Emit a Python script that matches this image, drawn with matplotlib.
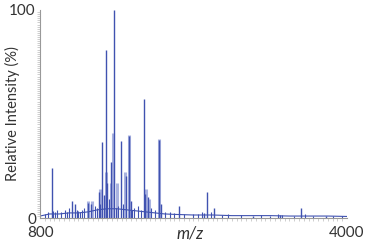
import matplotlib.pyplot as plt
from matplotlib.ticker import MultipleLocator, FixedLocator

plt.rcParams['font.family'] = ['Lato', 'DejaVu Sans']

# Main peaks (m/z, relative intensity %)
peak_mz = [925, 1133, 1162, 1300, 1335, 1412, 1443, 1464, 1485, 1501,
           1537, 1568, 1641, 1693, 1724, 1745, 1882, 1897, 1922, 2040,
           2061, 2249, 2512, 2543, 2612, 3016, 3301, 3517, 3777]
peak_int = [24, 8, 7, 7.5, 7, 12.6, 36.5, 11, 81, 17,
            27, 100, 37, 20, 39.5, 8, 57, 11.5, 10, 37.5,
            7, 6, 2.5, 12.4, 5, 1.2, 1.5, 5, 1]

# Lighter, broader shoulders under some peaks
shoulder_mz = [1300, 1345, 1430, 1490, 1540, 1565, 1600, 1690, 1730, 1900, 1940, 2045]
shoulder_int = [8, 8, 14, 22, 17, 41, 17, 22, 40, 14, 9, 38]

# Small peaks / noise
minor_mz = [850, 880, 940, 960, 980, 1020, 1060, 1080, 1100, 1180, 1200, 1220,
            1240, 1260, 1370, 1390, 1420, 1520, 1590, 1610, 1660, 1760, 1780,
            1820, 1850, 1960, 2000, 2100, 2150, 2200, 2300, 2400, 2450, 2490,
            2580, 2700, 2760, 2900, 3100, 3200, 3280, 3320, 3450, 3560, 3650,
            3850, 3950]
minor_int = [2, 3, 3.5, 3, 4, 3, 4, 3, 5, 4, 3.5, 3,
             4, 5, 6, 5, 7, 9, 5, 6, 7, 4, 5,
             6, 4, 5, 4, 3, 3, 2.5, 2, 2, 2, 3,
             3, 1.5, 2, 1.5, 1.5, 1.2, 2, 1.5, 1.2, 2, 1.2,
             1, 1]

# Baseline trace
base_mz = [800, 850, 900, 950, 1000, 1100, 1200, 1300, 1400, 1500, 1600,
           1700, 1800, 1900, 2000, 2100, 2200, 2400, 2600, 2800, 3000,
           3200, 3400, 3600, 3800, 4000]
base_int = [1, 1.5, 2, 2, 2, 2.5, 2.5, 3, 4, 4.5, 4.5,
            4, 3.5, 3, 2.5, 2, 1.8, 1.5, 1.5, 1.2, 1.2,
            1.2, 1, 1, 1, 0.8]

dark = '#4052b0'
light = '#a9b3e0'

fig = plt.figure(figsize=(3.71, 2.49), dpi=100)
ax = fig.add_axes([0.108, 0.124, 0.827, 0.836])

ax.vlines(shoulder_mz, 0, shoulder_int, color=light, lw=2.2)
ax.plot(base_mz, base_int, color=dark, lw=0.8)
ax.vlines(minor_mz, 0, minor_int, color=dark, lw=0.8)
ax.vlines(peak_mz, 0, peak_int, color=dark, lw=1.0)

ax.set_xlim(800, 4000)
ax.set_ylim(0, 100)

for s in ['top', 'right']:
    ax.spines[s].set_visible(False)
for s in ['left', 'bottom']:
    ax.spines[s].set_color('#999999')
    ax.spines[s].set_linewidth(0.8)

ax.xaxis.set_major_locator(FixedLocator([800, 4000]))
ax.yaxis.set_major_locator(FixedLocator([0, 100]))
ax.xaxis.set_minor_locator(MultipleLocator(50))
ax.yaxis.set_minor_locator(MultipleLocator(1))
ax.tick_params(which='major', length=0, labelsize=11, labelcolor='#333333', pad=3)
ax.tick_params(axis='x', which='major', pad=6)
ax.tick_params(which='minor', length=2, width=0.4, color='#aaaaaa')

ax.set_xlabel('m/z', style='italic', fontsize=12, color='#333333')
ax.xaxis.set_label_coords(0.49, -0.035)
ax.set_ylabel('Relative Intensity (%)', fontsize=10.5, color='#333333')
ax.yaxis.set_label_coords(-0.065, 0.5)

fig.savefig('out.png', dpi=100)
